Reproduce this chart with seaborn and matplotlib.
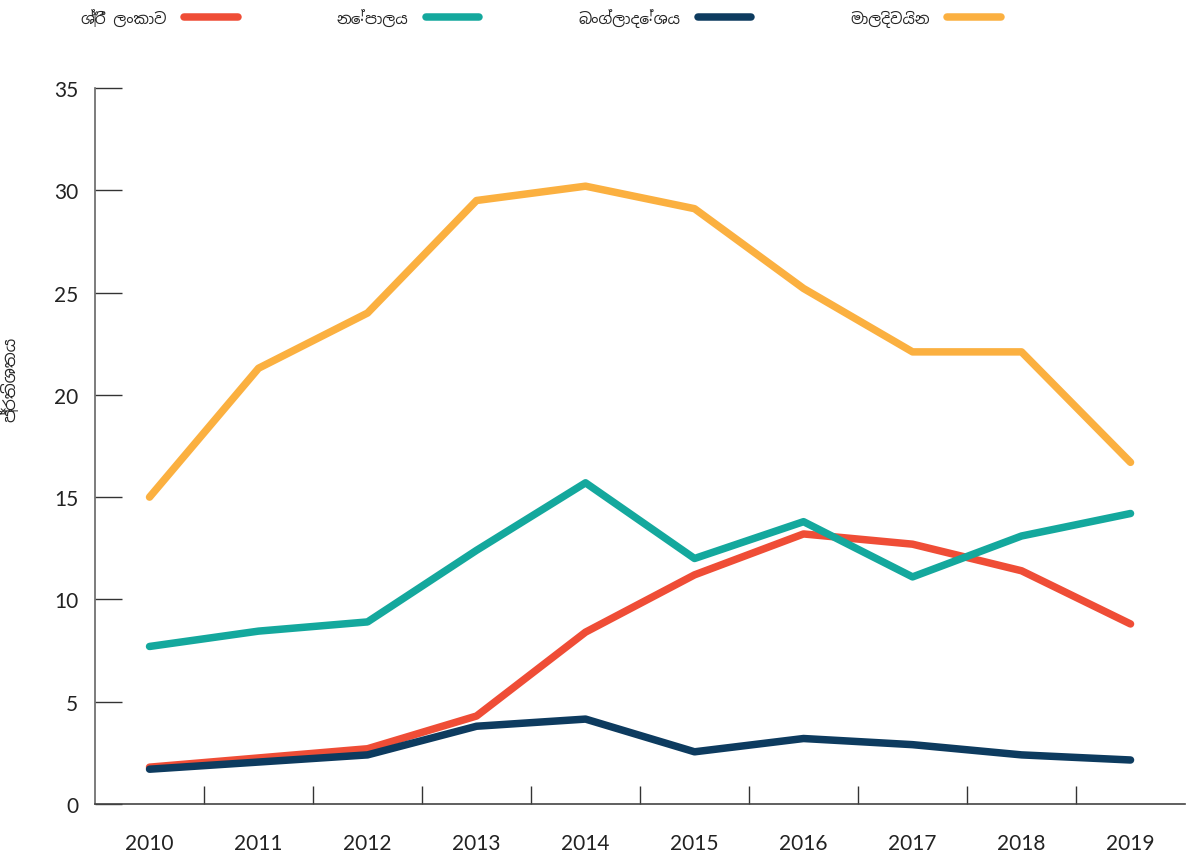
import seaborn as sns
import pandas as pd
import matplotlib.pyplot as plt
from matplotlib import font_manager

years = ['2010', '2011', '2012', '2013', '2014', '2015', '2016', '2017', '2018', '2019']
countries = ['ශ්‍රී ලංකාව', 'නේපාලය', 'බංග්ලාදේශය', 'මාලදිවයින']
sriLanka = [1.8, 2.25, 2.7, 4.3, 8.4, 11.2, 13.2, 12.7, 11.4, 8.8]
nepal = [7.7, 8.45, 8.9, 12.4, 15.7, 12.0, 13.8, 11.1, 13.1, 14.2]
bangladesh = [1.7, 2.05, 2.4, 3.8, 4.15, 2.55, 3.2, 2.9, 2.4, 2.15]
maldives = [15.0, 21.3, 24.0, 29.5, 30.2, 29.1, 25.2, 22.1, 22.1, 16.7]
colors = ['#ef4d36', '#14a89d', '#0d3b5f', '#fbb040']

sns.set_style('white')

# Sinhala glyphs: use any installed font that has them, then fall back
sinhala = [f.name for f in font_manager.fontManager.ttflist if 'Sinhala' in f.name]
familias = sinhala[:1] + ['Lato', 'DejaVu Sans']
plt.rcParams['font.family'] = familias

linhas = []
for pais, valores in zip(countries, [sriLanka, nepal, bangladesh, maldives]):
    for ano, v in zip(years, valores):
        linhas.append({'ano': ano, 'valor': v, 'pais': pais})
df = pd.DataFrame(linhas)

fig = plt.figure(figsize=(11.88, 8.54), dpi=100)
ax = fig.add_axes([0.08, 0.0574, 0.9175, 0.8384])

sns.lineplot(data=df, x='ano', y='valor', hue='pais', palette=colors,
             linewidth=5.4, ax=ax, legend=True)
for l in ax.lines:
    l.set_solid_capstyle('round')
    l.set_solid_joinstyle('round')

ax.set_xlim(-0.5, 9.5)
ax.set_ylim(0, 35)
ax.set_yticks(range(0, 36, 5))
ax.set_xticks(range(10))
ax.set_xticklabels(years)
ax.set_xticks([i + 0.5 for i in range(9)], minor=True)

ax.tick_params(axis='y', direction='in', length=19.5, width=1, color='#333333',
               labelsize=15, pad=12, labelcolor='#222222', left=True)
ax.tick_params(axis='x', which='major', length=0, labelsize=15, pad=21,
               labelcolor='#222222', bottom=True)
ax.tick_params(axis='x', which='minor', direction='in', length=13, width=1,
               color='#333333', bottom=True)
for t in ax.get_xticklabels() + ax.get_yticklabels():
    t.set_fontfamily(['Lato', 'DejaVu Sans'])

for s in ['top', 'right']:
    ax.spines[s].set_visible(False)
ax.spines['left'].set_color('#666666')
ax.spines['bottom'].set_color('#444444')
ax.spines['left'].set_linewidth(1.2)
ax.spines['bottom'].set_linewidth(1.2)

ax.set_xlabel('')
ax.set_ylabel('ප්‍රතිශතය', fontsize=12, fontweight='bold')
ax.yaxis.set_label_coords(-0.07, 0.594)

handles, labels = ax.get_legend_handles_labels()
ax.legend(handles, labels, loc='upper left', bbox_to_anchor=(0.057, 1.006),
          bbox_transform=fig.transFigure, ncol=4, frameon=False,
          markerfirst=False, handlelength=3.5, handletextpad=1.12,
          columnspacing=6.5, prop={'size': 11, 'weight': 'bold'})

plt.savefig('out.png', dpi=100)
